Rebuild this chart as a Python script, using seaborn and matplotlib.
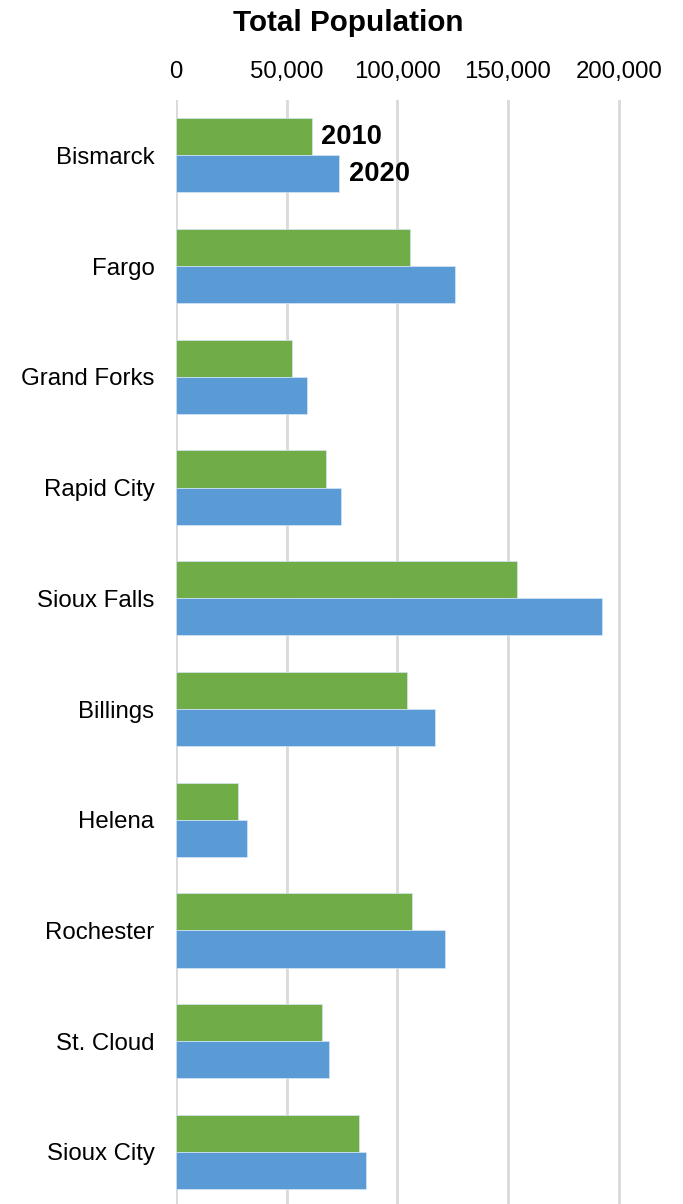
import pandas as pd
import seaborn as sns
import matplotlib.pyplot as plt
from matplotlib.ticker import FuncFormatter

cities = ["Bismarck", "Fargo", "Grand Forks", "Rapid City", "Sioux Falls",
          "Billings", "Helena", "Rochester", "St. Cloud", "Sioux City"]
pop_2010 = [61300, 105500, 52500, 67900, 153900, 104200, 28200, 106800, 65800, 82500]
pop_2020 = [73600, 126000, 59100, 74700, 192500, 117100, 32100, 121400, 68900, 85800]
years = ["2010", "2020"]

df = pd.DataFrame({
    "city": cities * 2,
    "year": [years[0]] * len(cities) + [years[1]] * len(cities),
    "pop": pop_2010 + pop_2020,
})

sns.set_style("white")
plt.rcParams['font.family'] = ['Liberation Sans', 'DejaVu Sans']
plt.rcParams['text.color'] = 'black'
plt.rcParams['xtick.color'] = 'black'
plt.rcParams['ytick.color'] = 'black'

fig = plt.figure(figsize=(6.83, 12.04), dpi=100)
ax = fig.add_axes([176 / 683, 0.0, (663 - 176) / 683, 1 - 100 / 1204])

sns.barplot(data=df, x="pop", y="city", hue="year", orient="h",
            palette=["#70AD47", "#5B9BD5"], saturation=1, width=0.67, gap=0,
            edgecolor="#D6E6F4", linewidth=0.5, ax=ax, legend=False, zorder=3)

ax.set_xlim(0, 220000)
ax.set_ylim(9.47, -0.5)
ax.set_xticks([0, 50000, 100000, 150000, 200000])
ax.xaxis.set_major_formatter(FuncFormatter(lambda v, p: f"{int(v):,}"))
ax.xaxis.tick_top()
ax.tick_params(axis="x", length=0, labelsize=17.3, pad=12)
ax.tick_params(axis="y", length=0, labelsize=17.3, pad=15.5)
ax.grid(axis="x", color="#D9D9D9", linewidth=2, zorder=0)
ax.set_axisbelow(True)
for s in ax.spines.values():
    s.set_visible(False)
ax.set_xlabel("")
ax.set_ylabel("")

# year labels beside the first group
for cont, yr in zip(ax.containers, years):
    bar = cont.patches[0]
    ax.annotate(yr, (bar.get_width(), bar.get_y() + bar.get_height() / 2),
                xytext=(7, 0), textcoords="offset points",
                ha="left", va="center", fontsize=19.6, fontweight="bold")

fig.suptitle("Total Population", x=348 / 683, y=1 - 23 / 1204, va="center",
             fontsize=21.3, fontweight="bold")

fig.savefig("out.png", dpi=100)
